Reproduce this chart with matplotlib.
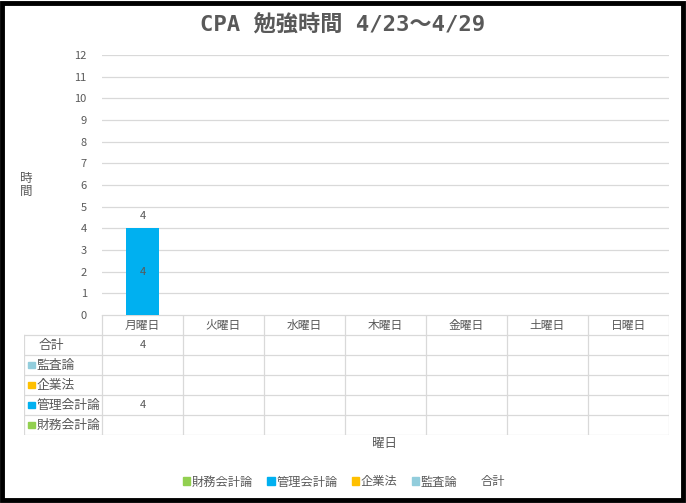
import numpy as np
import matplotlib.pyplot as plt
from matplotlib.patches import Rectangle

plt.rcParams['font.family'] = ['Noto Sans CJK JP', 'DejaVu Sans']

days = ["月曜日", "火曜日", "水曜日", "木曜日", "金曜日", "土曜日", "日曜日"]
series_names = ["財務会計論", "管理会計論", "企業法", "監査論"]
series_colors = ["#92D050", "#00B0F0", "#FFC000", "#92CDDC"]
zaimu = [0, 0, 0, 0, 0, 0, 0]
kanri = [4, 0, 0, 0, 0, 0, 0]
kigyo = [0, 0, 0, 0, 0, 0, 0]
kansa = [0, 0, 0, 0, 0, 0, 0]
values = [zaimu, kanri, kigyo, kansa]
total = [sum(v) for v in zip(*values)]

W, H = 686, 503
fig = plt.figure(figsize=(W / 100, H / 100), dpi=100)
txt = "#595959"
grid = "#d9d9d9"

def fx(px):
    return px / W

def fy(py):
    return 1 - py / H

# chart area
left, right, top, bottom = 102, 669, 55, 315
ax = fig.add_axes([fx(left), fy(bottom), fx(right - left), fy(top) - fy(bottom)])
x = np.arange(len(days))
base = np.zeros(len(days))
for name, col, v in zip(series_names, series_colors, values):
    ax.bar(x, v, 0.4, bottom=base, color=col, label=name)
    for i, val in enumerate(v):
        if val:
            ax.text(i, base[i] + val / 2, str(val), ha="center", va="center", fontsize=8, color=txt)
    base += np.array(v)
for i, t in enumerate(total):
    if t:
        ax.text(i, t + 0.55, str(t), ha="center", va="center", fontsize=8, color=txt)

ax.set_xlim(-0.5, len(days) - 0.5)
ax.set_ylim(0, 12)
ax.set_yticks(range(0, 13))
ax.yaxis.grid(True, color=grid, lw=0.9)
ax.set_axisbelow(True)
for s in ax.spines.values():
    s.set_visible(False)
ax.set_xticks([])
ax.tick_params(axis="y", length=0, labelsize=8, labelcolor=txt, pad=11)

# data table under the chart
tab = fig.add_axes([fx(24), fy(435), fx(right - 24), fy(315) - fy(435)])
xl = -(102 - 24) / 81
tab.set_xlim(xl, len(days))
tab.set_ylim(6, 0)
tab.axis("off")
lw = 0.9
for i, d in enumerate(days):
    tab.text(i + 0.5, 0.5, d, ha="center", va="center", fontsize=8.5, color=txt)
for r in range(1, 7):
    tab.plot([xl, len(days)], [r, r], color=grid, lw=lw)
tab.plot([0, len(days)], [0, 0], color=grid, lw=lw)
for c in range(0, len(days) + 1):
    tab.plot([c, c], [0, 6], color=grid, lw=lw)
tab.plot([xl, xl], [1, 6], color=grid, lw=lw)

row_labels = ["合計"] + series_names[::-1]
row_vals = [total] + values[::-1]
row_cols = [None] + series_colors[::-1]
for r, (lab, vals, col) in enumerate(zip(row_labels, row_vals, row_cols), start=1):
    if col:
        tab.add_patch(Rectangle((xl + 0.05, r + 0.33), 0.085, 0.34, color=col))
        tab.text(xl + 0.15, r + 0.5, lab, ha="left", va="center", fontsize=9.2, color=txt)
    else:
        tab.text(xl + 0.18, r + 0.5, lab, ha="left", va="center", fontsize=9.2, color=txt)
    for i, v in enumerate(vals):
        if v:
            tab.text(i + 0.5, r + 0.5, str(v), ha="center", va="center", fontsize=8, color=txt)

# title and axis labels
fig.text(fx(343), fy(25), "CPA 勉強時間 4/23～4/29", ha="center", va="center",
         fontsize=16, fontweight="bold", color=txt,
         family=['DejaVu Sans Mono', 'Noto Sans CJK JP'])
fig.text(fx(385), fy(444), "曜日", ha="center", va="center", fontsize=9, color=txt)
fig.text(fx(26), fy(185), "時\n間", ha="center", va="center", fontsize=9, color=txt, linespacing=0.95)

# legend
handles = [Rectangle((0, 0), 1, 1, color=c) for c in series_colors] + [Rectangle((0, 0), 1, 1, color="none")]
fig.legend(handles, series_names + ["合計"], loc="center", bbox_to_anchor=(fx(344), fy(482)),
           ncol=5, frameon=False, fontsize=8.8, labelcolor=txt, handlelength=0.6, handleheight=0.6,
           handletextpad=0.15, columnspacing=1.15)

fig.patches.append(Rectangle((0.003, 0.005), 0.993, 0.99, transform=fig.transFigure,
                             fill=False, edgecolor="black", lw=3.5))

fig.savefig("out.png", dpi=100)
